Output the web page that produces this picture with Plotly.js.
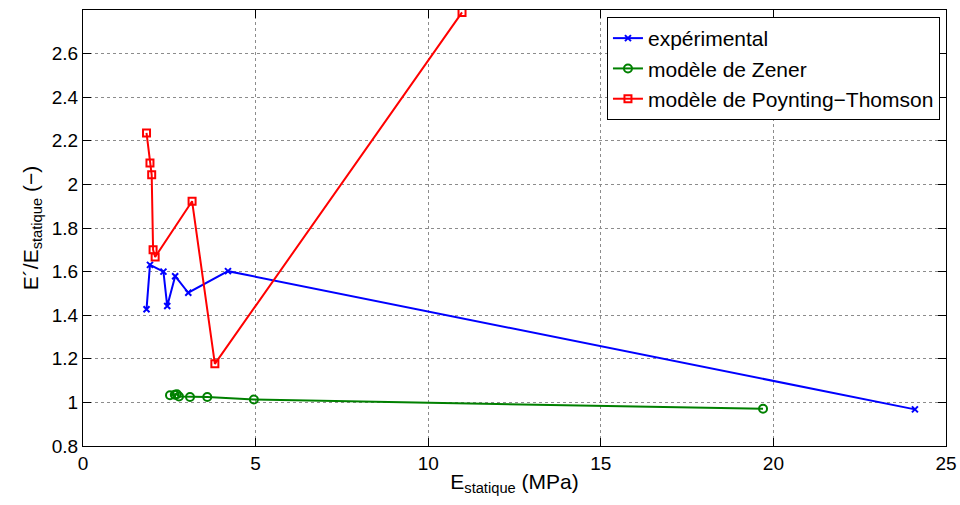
<!DOCTYPE html>
<html>
<head>
<meta charset="utf-8">
<script src="https://cdn.plot.ly/plotly-3.0.1.min.js"></script>
<style>html,body{margin:0;padding:0;background:#fff;}#chart{width:960px;height:505px;}</style>
</head>
<body>
<div id="chart"></div>
<script>
// Data
const expX = [1.84, 1.94, 2.33, 2.44, 2.67, 3.05, 4.20, 24.10];
const expY = [1.427, 1.631, 1.600, 1.442, 1.579, 1.503, 1.602, 0.968];

const zenerX = [2.52, 2.66, 2.72, 2.78, 3.10, 3.60, 4.95, 19.70];
const zenerY = [1.033, 1.035, 1.037, 1.027, 1.025, 1.025, 1.013, 0.971];

const ptX = [1.84, 1.94, 1.99, 2.03, 2.09, 3.16, 3.82, 10.98];
const ptY = [2.236, 2.098, 2.044, 1.700, 1.667, 1.923, 1.177, 2.789];

const seriesNames = ['expérimental', 'modèle de Zener', 'modèle de Poynting\u2212Thomson'];
const xTicks = [0, 5, 10, 15, 20, 25];
const yTicks = [0.8, 1, 1.2, 1.4, 1.6, 1.8, 2, 2.2, 2.4, 2.6];

const traces = [
  {x: expX, y: expY, name: seriesNames[0], mode: 'lines+markers', type: 'scatter',
   line: {color: '#0000ff', width: 2}, marker: {symbol: 'x-thin-open', size: 6, color: '#0000ff', line: {color: '#0000ff', width: 2}}},
  {x: zenerX, y: zenerY, name: seriesNames[1], mode: 'lines+markers', type: 'scatter',
   line: {color: '#008000', width: 2}, marker: {symbol: 'circle-open', size: 8, color: '#008000', line: {color: '#008000', width: 2}}},
  {x: ptX, y: ptY, name: seriesNames[2], mode: 'lines+markers', type: 'scatter',
   line: {color: '#ff0000', width: 2}, marker: {symbol: 'square-open', size: 7, color: '#ff0000', line: {color: '#ff0000', width: 2}}}
];

const font = 'Liberation Sans, Arial, Helvetica, sans-serif';
const layout = {
  width: 960, height: 505,
  margin: {l: 83, r: 14, t: 10, b: 59},
  paper_bgcolor: '#ffffff', plot_bgcolor: '#ffffff',
  font: {family: font, size: 19, color: '#000'},
  showlegend: true,
  legend: {x: 0.993, y: 0.984, xanchor: 'right', yanchor: 'top', bgcolor: '#ffffff',
           bordercolor: '#000', borderwidth: 1, font: {family: font, size: 21, color: '#000'},
           tracegroupgap: 0, itemwidth: 30},
  xaxis: {range: [0, 25], tickvals: xTicks, ticktext: xTicks.map(String),
          showgrid: true, gridcolor: '#8c8c8c', griddash: 'dot', gridwidth: 1,
          zeroline: false, showline: true, linecolor: '#000', linewidth: 1, mirror: 'ticks',
          ticks: 'inside', ticklen: 8, tickcolor: '#000',
          tickfont: {family: font, size: 19},
          title: {text: 'E<sub>statique</sub> (MPa)', font: {family: font, size: 21}, standoff: 1}},
  yaxis: {range: [0.8, 2.8], tickvals: yTicks, ticktext: yTicks.map(String),
          showgrid: true, gridcolor: '#8c8c8c', griddash: 'dot', gridwidth: 1,
          zeroline: false, showline: true, linecolor: '#000', linewidth: 1, mirror: 'ticks',
          ticks: 'inside', ticklen: 8, tickcolor: '#000',
          tickfont: {family: font, size: 19},
          title: {text: 'E\u00b4/E<sub>statique</sub> (\u2212)', font: {family: font, size: 21}, standoff: 7}}
};

Plotly.newPlot('chart', traces, layout, {displayModeBar: false, staticPlot: true});
</script>
</body>
</html>
